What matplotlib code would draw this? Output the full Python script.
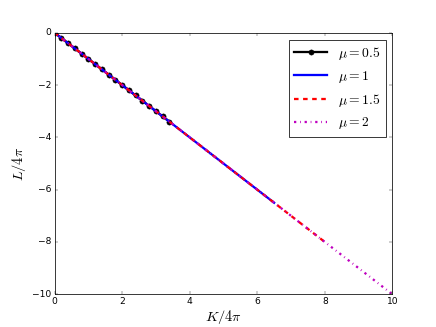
import matplotlib
matplotlib.use("Agg")
import matplotlib.pyplot as plt

plt.style.use("classic")
plt.rcParams["mathtext.fontset"] = "cm"

K_05 = [0.0, 0.2, 0.4, 0.6, 0.8, 1.0, 1.2, 1.4, 1.6, 1.8, 2.0, 2.2, 2.4, 2.6, 2.8, 3.0, 3.2, 3.4]
L_05 = [0.0, -0.2, -0.4, -0.6, -0.8, -1.0, -1.2, -1.4, -1.6, -1.8, -2.0, -2.2, -2.4, -2.6, -2.8, -3.0, -3.2, -3.4]
K_1 = [0.0, 6.5]
L_1 = [0.0, -6.5]
K_15 = [0.0, 8.0]
L_15 = [0.0, -8.0]
K_2 = [0.0, 10.0]
L_2 = [0.0, -10.0]
labels = [r"$\mu=0.5$", r"$\mu=1$", r"$\mu=1.5$", r"$\mu=2$"]

fig = plt.figure(figsize=(8, 6), dpi=54.5, facecolor="white")
ax = fig.add_subplot(111)
ax.plot(K_05, L_05, color="k", linestyle="-", marker=".", markersize=14, lw=3, label=labels[0])
ax.plot(K_1, L_1, color="b", linestyle="-", lw=3, label=labels[1])
ax.plot(K_15, L_15, color="r", linestyle="--", lw=3, label=labels[2])
ax.plot(K_2, L_2, color="m", linestyle="-.", lw=3, label=labels[3])

ax.set_xlim(0, 10)
ax.set_ylim(-10, 0)
ax.set_xlabel(r"$K/4\pi$", fontsize=19, labelpad=2)
ax.set_ylabel(r"$L/4\pi$", fontsize=19)

ax.legend(loc="upper right", fontsize=18, handlelength=2.4, numpoints=1)

fig.savefig("out.png", dpi=54.5, facecolor="white")
